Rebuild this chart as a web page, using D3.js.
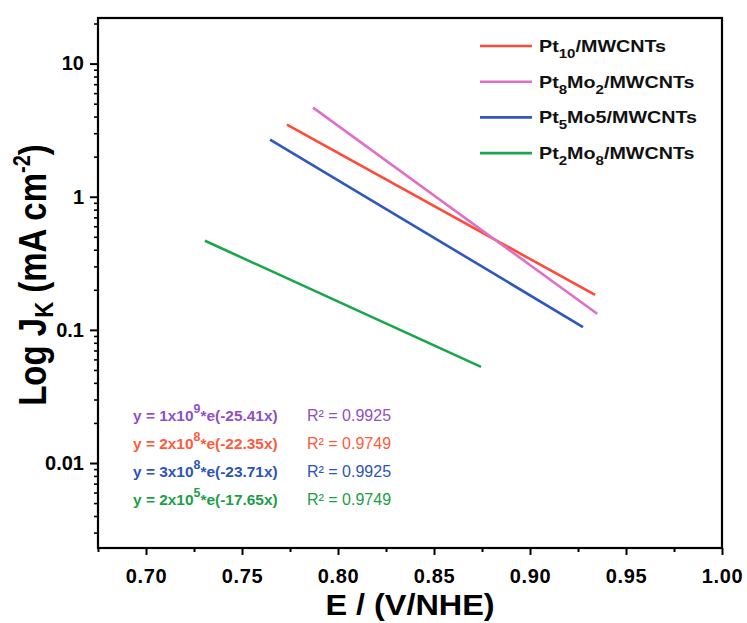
<!doctype html>
<html>
<head>
<meta charset="utf-8">
<style>
  body { margin: 0; background: #fff; }
  svg text { font-family: "Liberation Sans", Arial, sans-serif; }
  .tick text { font-weight: bold; }
</style>
<script src="https://d3js.org/d3.v7.min.js"></script>
</head>
<body>
<svg width="747" height="623" id="chart"></svg>
<script>
// data (fit lines, two ends each)
var series = ["Pt10", "Pt8Mo2", "Pt5Mo5", "Pt2Mo8"];
var colors = ["#ff4a3a", "#e070c6", "#2e58c0", "#1aa64a"];
var xStart = [0.7734, 0.787, 0.7646, 0.7307];
var xEnd   = [0.9339, 0.935, 0.9276, 0.8745];
var yStart = [3.48, 4.67, 2.69, 0.467];
var yEnd   = [0.183, 0.132, 0.105, 0.0527];

var xTicks = [0.70, 0.75, 0.80, 0.85, 0.90, 0.95, 1.00];
var yTicks = [10, 1, 0.1, 0.01];

// [text, isSubscript]
var legendParts = [
  [["Pt", 0], ["10", 1], ["/MWCNTs", 0]],
  [["Pt", 0], ["8", 1], ["Mo", 0], ["2", 1], ["/MWCNTs", 0]],
  [["Pt", 0], ["5", 1], ["Mo5/MWCNTs", 0]],
  [["Pt", 0], ["2", 1], ["Mo", 0], ["8", 1], ["/MWCNTs", 0]]
];

var eqPre = ["y = 1x10", "y = 2x10", "y = 3x10", "y = 2x10"];
var eqExp = ["9", "8", "8", "5"];
var eqPost = ["*e(-25.41x)", "*e(-22.35x)", "*e(-23.71x)", "*e(-17.65x)"];
var rSquared = ["R\u00b2 = 0.9925", "R\u00b2 = 0.9749", "R\u00b2 = 0.9925", "R\u00b2 = 0.9749"];
var eqColors = ["#9050c4", "#ff5a3c", "#2c54b8", "#1c9e46"];

(function() {
var svg = d3.select("#chart");
var left = 98, right = 722, plotTop = 18, bottom = 548;

var x = d3.scaleLinear().domain([0.675, 1.00]).range([left, right]);
var y = d3.scaleLog().domain([0.0023, 22]).range([bottom, plotTop]);

// minor ticks
var xMinor = d3.range(0, 7).map(function(i) { return +(0.675 + i * 0.05).toFixed(3); });
var yMinor = [];
[0.001, 0.01, 0.1, 1, 10].forEach(function(dec) {
  for (var k = 2; k <= 9; k++) {
    var v = dec * k;
    if (v >= 0.0023 && v <= 22) yMinor.push(v);
  }
});

svg.append("g")
   .attr("transform", "translate(0," + bottom + ")")
   .call(d3.axisBottom(x).tickValues(xMinor).tickSize(4).tickFormat(""))
   .call(function(g) {
     g.select(".domain").remove();
     g.selectAll("line").attr("stroke-width", 2);
   });

svg.append("g")
   .attr("transform", "translate(0," + bottom + ")")
   .call(d3.axisBottom(x).tickValues(xTicks).tickSize(7).tickPadding(14)
         .tickFormat(d3.format(".2f")))
   .call(function(g) {
     g.select(".domain").remove();
     g.selectAll("line").attr("stroke-width", 2);
     g.selectAll("text").attr("font-size", "20px").attr("letter-spacing", "0.6px")
      .attr("fill", "#000");
   });

svg.append("g")
   .attr("transform", "translate(" + left + ",0)")
   .call(d3.axisLeft(y).tickValues(yMinor).tickSize(4).tickFormat(""))
   .call(function(g) {
     g.select(".domain").remove();
     g.selectAll("line").attr("stroke-width", 1.6);
   });

svg.append("g")
   .attr("transform", "translate(" + left + ",0)")
   .call(d3.axisLeft(y).tickValues(yTicks).tickSize(8).tickPadding(6)
         .tickFormat(function(d) { return d >= 1 ? d3.format("d")(d) : String(d); }))
   .call(function(g) {
     g.select(".domain").remove();
     g.selectAll("line").attr("stroke-width", 2);
     g.selectAll("text").attr("font-size", "20px").attr("fill", "#000");
   });

// frame
svg.append("rect")
   .attr("x", left).attr("y", plotTop)
   .attr("width", right - left).attr("height", bottom - plotTop)
   .attr("fill", "none").attr("stroke", "#000").attr("stroke-width", 2.2);

// fit lines
series.forEach(function(s, i) {
  svg.append("line")
     .attr("x1", x(xStart[i])).attr("y1", y(yStart[i]))
     .attr("x2", x(xEnd[i])).attr("y2", y(yEnd[i]))
     .attr("stroke", colors[i]).attr("stroke-width", 2.6);
});

// legend
series.forEach(function(s, i) {
  var ly = 46 + i * 35.7;
  svg.append("line")
     .attr("x1", 480).attr("x2", 532).attr("y1", ly).attr("y2", ly)
     .attr("stroke", colors[i]).attr("stroke-width", 2.6);
  var t = svg.append("text")
     .attr("transform", "translate(539," + (ly + 6) + ") scale(1.16,1)")
     .attr("font-size", "17px").attr("font-weight", "bold").attr("fill", "#111");
  var shift = 0;
  legendParts[i].forEach(function(p) {
    var want = p[1] ? 6 : 0;
    t.append("tspan")
     .attr("font-size", p[1] ? "13px" : "17px")
     .attr("dy", want - shift)
     .text(p[0]);
    shift = want;
  });
});

// equations
eqPre.forEach(function(e, i) {
  var by = 421 + i * 28;
  var t = svg.append("text")
     .attr("transform", "translate(133," + by + ") scale(1.03,1)")
     .attr("font-size", "15px").attr("font-weight", "bold")
     .attr("fill", eqColors[i]);
  t.append("tspan").text(e);
  t.append("tspan").attr("dy", -8).attr("font-size", "12px").text(eqExp[i]);
  t.append("tspan").attr("dy", 8).text(eqPost[i]);

  svg.append("text")
     .attr("x", 307).attr("y", by)
     .attr("font-size", "16px").attr("fill", eqColors[i])
     .text(rSquared[i]);
});

// axis titles
var yl = svg.append("text")
   .attr("transform", "translate(46,275) scale(1.2,1) rotate(-90)")
   .attr("text-anchor", "middle")
   .attr("font-size", "33px").attr("font-weight", "bold").attr("fill", "#000");
yl.append("tspan").text("Log J");
yl.append("tspan").attr("font-size", "22px").attr("dy", 6).text("K");
yl.append("tspan").attr("dy", -6).text(" (mA cm");
yl.append("tspan").attr("font-size", "20px").attr("dy", -13).text("-2");
yl.append("tspan").attr("dy", 13).text(")");

svg.append("text")
   .attr("transform", "translate(410,615) scale(1.08,1)")
   .attr("text-anchor", "middle")
   .attr("font-size", "30px").attr("font-weight", "bold").attr("fill", "#000")
   .text("E / (V/NHE)");
})();
</script>
</body>
</html>
